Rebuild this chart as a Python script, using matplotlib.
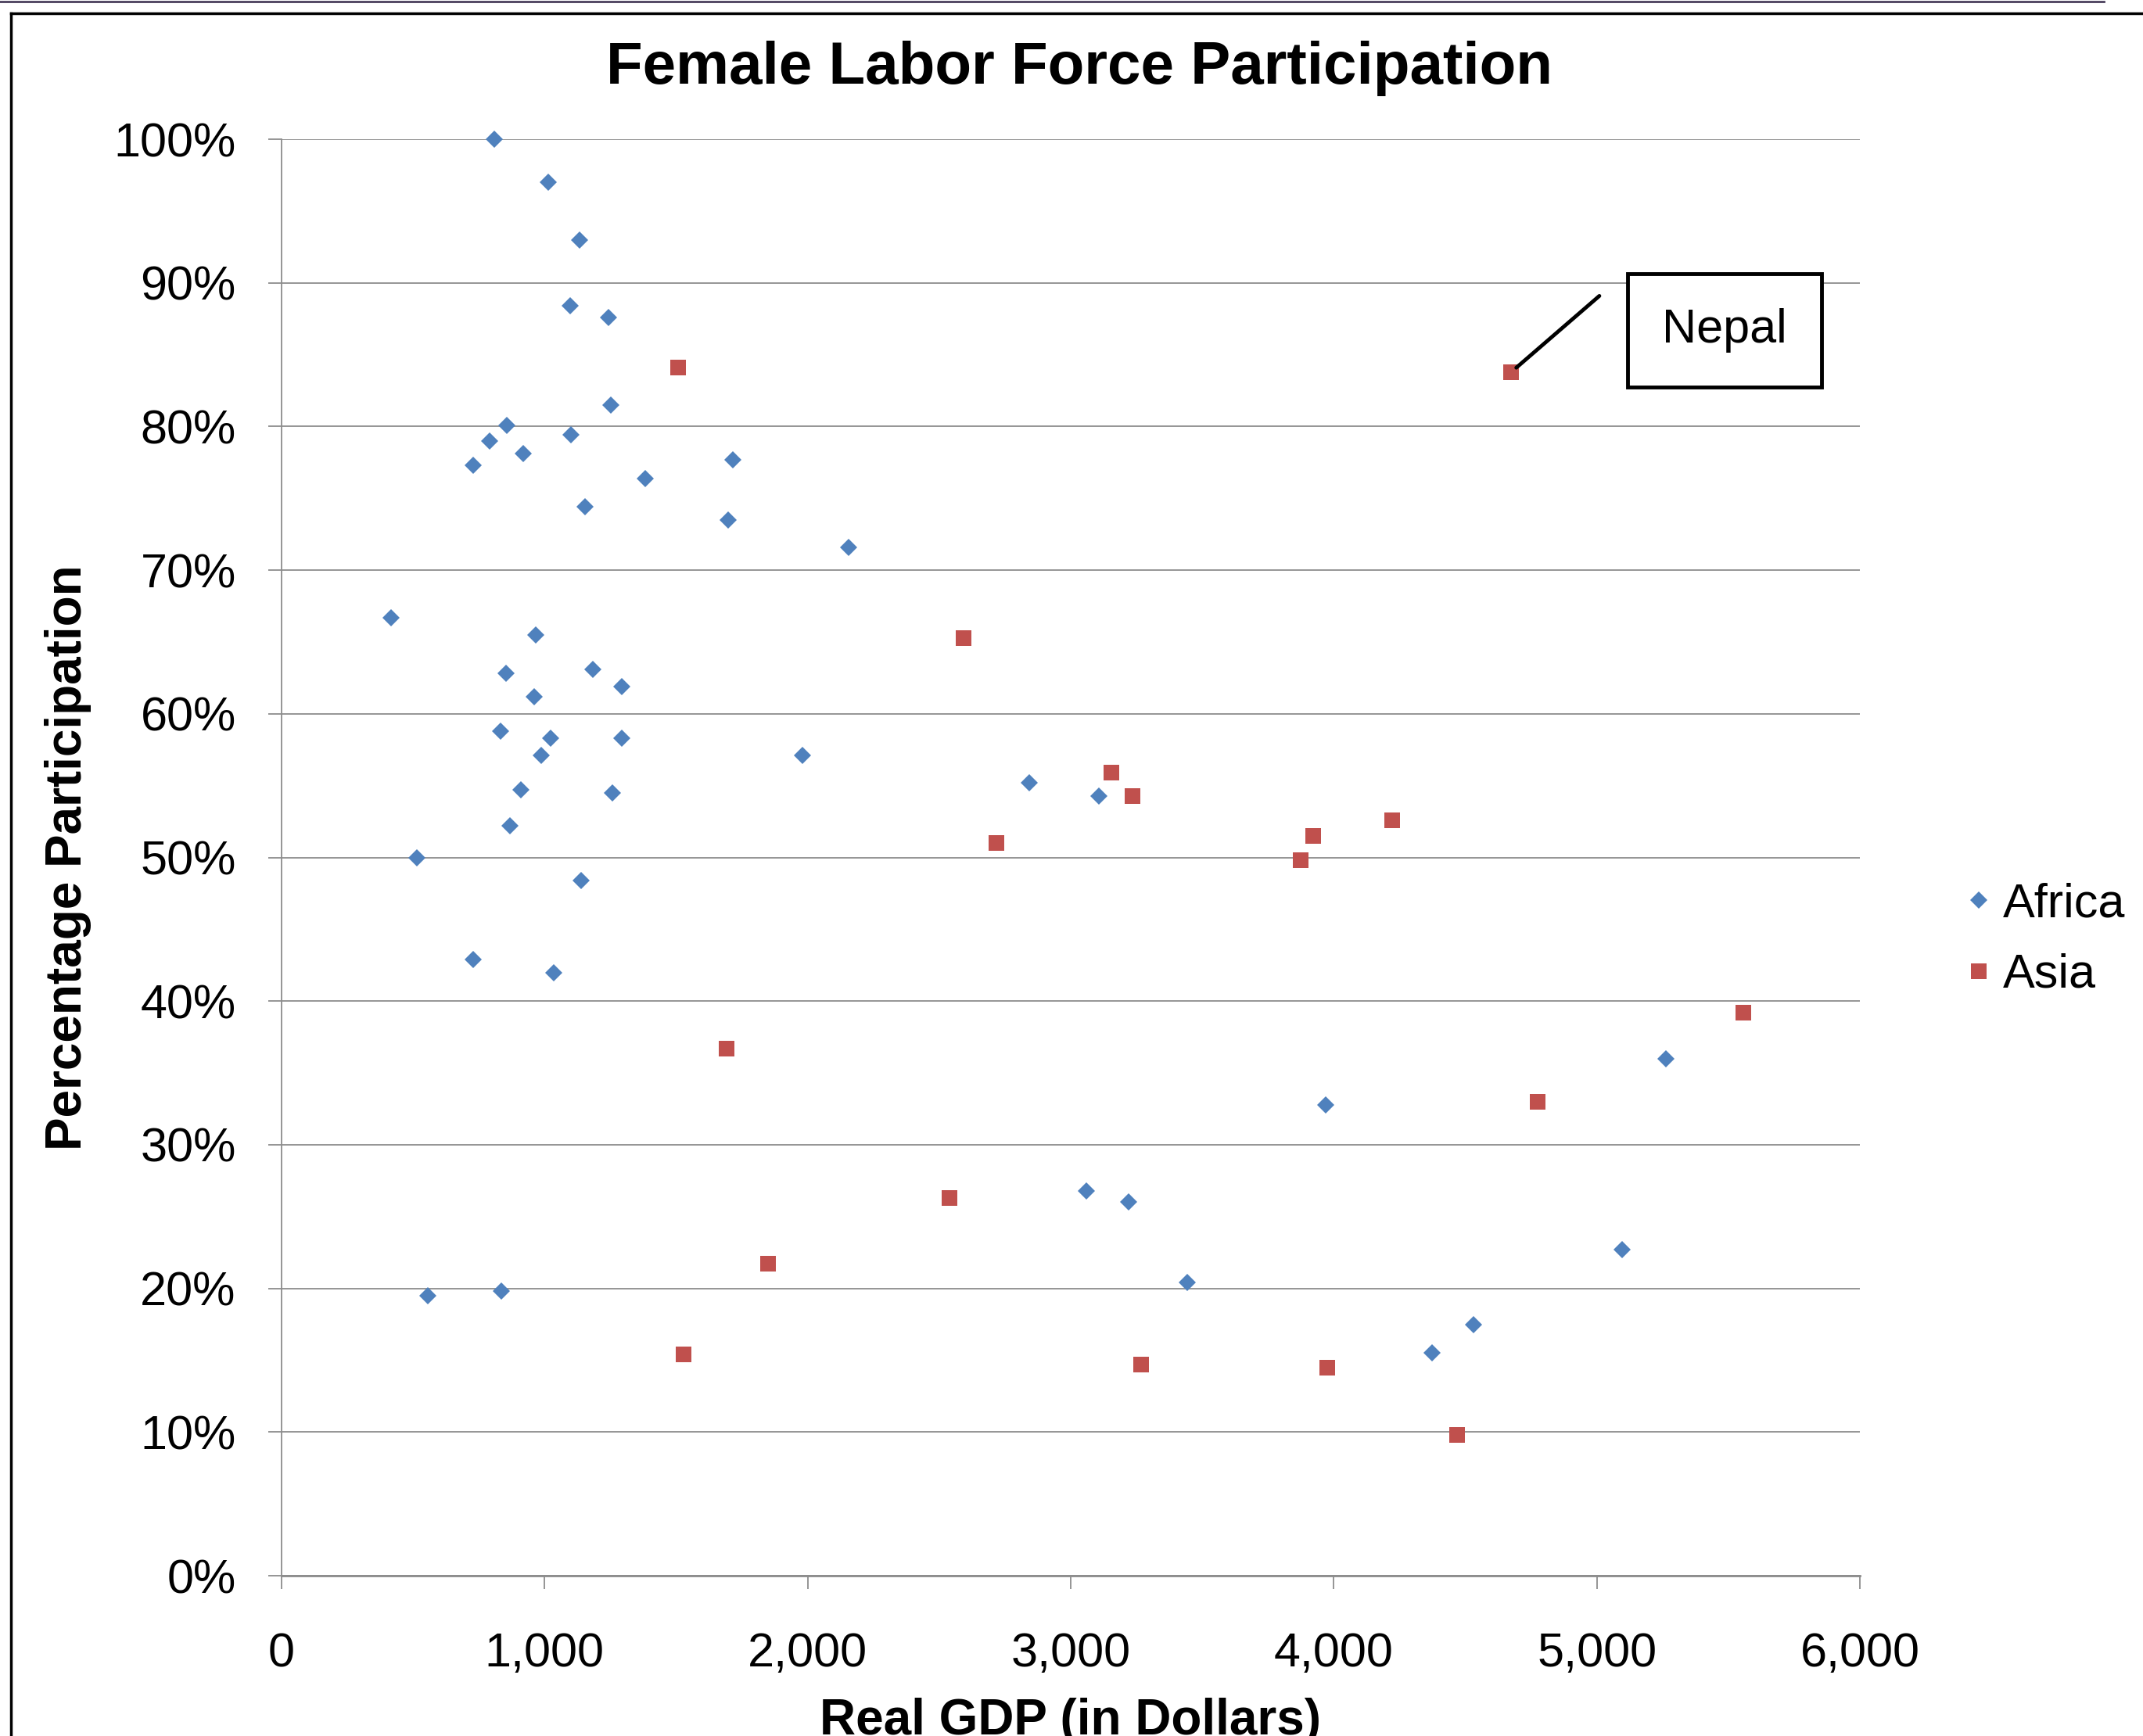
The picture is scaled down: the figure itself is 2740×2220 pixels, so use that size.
import matplotlib
matplotlib.use('Agg')
import matplotlib.pyplot as plt
from matplotlib.lines import Line2D
from matplotlib.ticker import FuncFormatter, MultipleLocator

plt.rcParams['font.family'] = ['Liberation Sans', 'DejaVu Sans']

# real GDP (dollars) and female participation (%)
africa_gdp = [810, 1013, 1132, 1096, 1242, 1252, 857, 790, 1101, 919, 727, 1382,
              1714, 1153, 1699, 2156, 416, 966, 852, 1184, 1294, 961, 831, 1023,
              1294, 987, 1979, 909, 1257, 868, 2842, 3107, 514, 1138, 727, 1034,
              3969, 5262, 3060, 3221, 3444, 5096, 556, 836, 4530, 4374]
africa_pct = [100.0, 97.0, 93.0, 88.4, 87.6, 81.5, 80.1, 79.0, 79.4, 78.1, 77.3, 76.4,
              77.7, 74.4, 73.5, 71.6, 66.7, 65.5, 62.8, 63.1, 61.9, 61.2, 58.8, 58.3,
              58.3, 57.1, 57.1, 54.7, 54.5, 52.2, 55.2, 54.3, 50.0, 48.4, 42.9, 42.0,
              32.8, 36.0, 26.8, 26.0, 20.4, 22.7, 19.5, 19.8, 17.5, 15.5]

asia_gdp = [1506, 4675, 2592, 3153, 3236, 2717, 3875, 3922, 4223, 1693, 5558, 4774,
            2540, 1849, 1527, 3268, 3974, 4468]
asia_pct = [84.1, 83.8, 65.3, 55.9, 54.3, 51.0, 49.8, 51.5, 52.6, 36.7, 39.2, 33.0,
            26.3, 21.7, 15.4, 14.7, 14.5, 9.8]

nepal_idx = 1

blue = '#4F81BD'
red = '#C0504D'
grid_col = '#8C8C8C'

fig = plt.figure(figsize=(27.4, 22.2), dpi=100)
ax = fig.add_axes([0.1314, 0.0923, 0.7365, 0.8275])

ax.plot(africa_gdp, africa_pct, linestyle='none', marker='D', markersize=11.5,
        color=blue, markeredgewidth=0, label='Africa', zorder=3, clip_on=False)
ax.plot(asia_gdp, asia_pct, linestyle='none', marker='s', markersize=15,
        color=red, markeredgewidth=0, label='Asia', zorder=3, clip_on=False)

ax.set_xlim(0, 6000)
ax.set_ylim(0, 100)
ax.xaxis.set_major_locator(MultipleLocator(1000))
ax.yaxis.set_major_locator(MultipleLocator(10))
ax.xaxis.set_major_formatter(FuncFormatter(lambda v, p: f'{int(v):,}'))
ax.yaxis.set_major_formatter(FuncFormatter(lambda v, p: f'{int(v)}%'))

ax.grid(axis='y', color=grid_col, linewidth=1.3)
ax.set_axisbelow(True)
for s in ['top', 'right']:
    ax.spines[s].set_visible(False)
ax.spines['left'].set_color(grid_col)
ax.spines['left'].set_linewidth(1.3)
ax.spines['bottom'].set_color(grid_col)
ax.spines['bottom'].set_linewidth(2)
ax.tick_params(axis='both', direction='out', length=12, width=1.3, color=grid_col,
               labelsize=44, labelcolor='black')
ax.tick_params(axis='y', pad=30)
ax.tick_params(axis='x', pad=40)

# Nepal callout: leader line from the point, then the boxed label
nx, ny = asia_gdp[nepal_idx], asia_pct[nepal_idx]
ax.annotate('', xy=(nx, ny), xytext=(81, 70), textcoords='offset points',
            arrowprops=dict(arrowstyle='-', color='black', lw=3.5,
                            shrinkA=0, shrinkB=6))
ax.annotate('Nepal', xy=(5486, 86.7), xycoords='data', fontsize=44,
            ha='center', va='center',
            bbox=dict(boxstyle='square,pad=0.72', fc='white', ec='black', lw=3.5))

fig.text(0.5036, 0.9605, 'Female Labor Force Participation', fontsize=55,
         fontweight='bold', ha='center', va='center')
fig.text(0.0318, 0.506, 'Percentage Participation', fontsize=46, fontweight='bold',
         rotation=90, ha='center', va='center')
fig.text(0.4993, 0.001, 'Real GDP (in Dollars)', fontsize=46, fontweight='bold',
         ha='center', va='baseline')

ax.legend(loc='center left', bbox_to_anchor=(0.9055, 0.4585), bbox_transform=fig.transFigure,
          frameon=False, fontsize=44, handlelength=0.6, handletextpad=0.2,
          labelspacing=0.55, borderpad=0)

# outer frame lines
fig.add_artist(Line2D([14 / 2740, 1.0], [1 - 17 / 2220, 1 - 17 / 2220],
                      transform=fig.transFigure, color='black', lw=2.5))
fig.add_artist(Line2D([14 / 2740, 14 / 2740], [0.0, 1 - 17 / 2220],
                      transform=fig.transFigure, color='black', lw=2.5))
fig.add_artist(Line2D([0.0, 2690 / 2740], [1 - 2 / 2220, 1 - 2 / 2220],
                      transform=fig.transFigure, color='#4a3f5c', lw=2))

fig.savefig('out.png', dpi=100)
